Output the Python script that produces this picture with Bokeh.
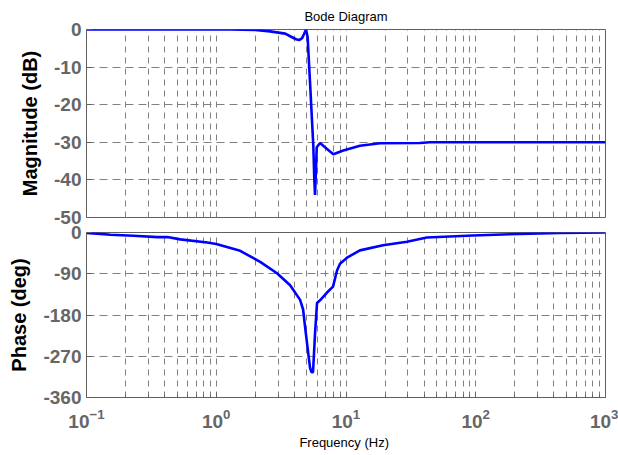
from bokeh.plotting import figure
from bokeh.layouts import column
from bokeh.models import Range1d, FixedTicker, CustomJSTickFormatter, LogTickFormatter
from bokeh.embed import file_html
from bokeh.resources import INLINE

# ---------------- data ----------------
mag_freq_hz = [0.1, 1.28, 2.0, 2.6, 3.40, 3.71, 4.12, 4.35, 4.59, 4.75, 4.92, 5.06,
               5.28, 5.60, 5.70, 5.77, 5.86, 5.95, 6.31, 7.10, 7.99, 9.53, 12.8,
               18.3, 37.1, 44.3, 1000]
mag_db = [0, 0, -0.1, -0.5, -1.1, -1.8, -2.6, -2.8, -2.3, -1.2, 0, -2,
          -14, -31, -40, -44, -38, -31.3, -30.2, -31.7, -33.2, -32.2, -30.9,
          -30.25, -30.2, -30.0, -30.0]

phase_freq_hz = [0.1, 0.128, 0.153, 0.230, 0.352, 0.420, 0.528, 0.853, 1.0, 1.53,
                 2.18, 2.94, 3.71, 4.43, 4.67, 4.88, 5.11, 5.28, 5.43, 5.57, 5.77,
                 5.98, 6.31, 7.14, 7.94, 8.53, 8.99, 10.18, 12.8, 19.3, 29.5, 42.0,
                 94.8, 218, 443, 1000]
phase_deg = [-1, -3, -5, -7, -10, -10, -15, -22, -25, -40,
             -64, -89, -115, -147, -168, -215, -262, -295, -305, -305, -221,
             -154, -148, -131, -118, -83, -68, -55, -39, -28, -20, -11,
             -6.5, -3, -1, 0]

x_major = [0.1, 1, 10, 100, 1000]
mag_ticks = [0, -10, -20, -30, -40, -50]
phase_ticks = [0, -90, -180, -270, -360]

title_text = "Bode Diagram"
mag_label = "Magnitude (dB)"
phase_label = "Phase (deg)"
freq_label = "Frequency  (Hz)"

# ---------------- styling ----------------
FONT = "Liberation Sans"
GRID = "#808080"
FRAME = "#606060"
TICKC = "#666666"
BLUE = "#0000ff"
x_minor = [m * 10.0 ** k for k in range(-1, 3) for m in range(2, 10)]

W = 618
x_range = Range1d(0.1, 1000)
plain_fmt = "return tick.toString()"


def style(p, yticks):
    p.outline_line_color = FRAME
    p.outline_line_width = 1
    p.xgrid.ticker = FixedTicker(ticks=x_major, minor_ticks=x_minor)
    p.xgrid.grid_line_color = GRID
    p.xgrid.grid_line_dash = "6 5"
    p.xgrid.minor_grid_line_color = GRID
    p.xgrid.minor_grid_line_dash = "6 5"
    p.ygrid.ticker = FixedTicker(ticks=yticks)
    p.ygrid.grid_line_color = GRID
    p.ygrid.grid_line_dash = "8 5"
    ax = p.yaxis[0]
    ax.ticker = FixedTicker(ticks=yticks)
    ax.formatter = CustomJSTickFormatter(code=plain_fmt)
    ax.axis_line_color = FRAME
    ax.major_tick_in = 5
    ax.major_tick_out = 0
    ax.minor_tick_in = 0
    ax.minor_tick_out = 0
    ax.major_tick_line_color = FRAME
    ax.major_label_text_font = FONT
    ax.major_label_text_font_style = "bold"
    ax.major_label_text_font_size = "19px"
    ax.major_label_text_color = TICKC
    ax.major_label_standoff = 5
    ax.axis_label_text_font = FONT
    ax.axis_label_text_font_style = "bold"
    ax.axis_label_text_font_size = "20px"
    ax.axis_label_text_color = "#000000"
    ax.axis_label_standoff = 10
    p.background_fill_color = "#ffffff"


# ---------------- magnitude ----------------
p1 = figure(width=W, height=237, x_axis_type="log", x_range=x_range,
            y_range=Range1d(-50, 0), output_backend="svg", toolbar_location=None,
            min_border_left=86, min_border_right=13, min_border_top=29,
            min_border_bottom=20, title=title_text)
p1.xaxis.visible = False
style(p1, mag_ticks)
p1.border_fill_color = "#ffffff"
p1.yaxis.axis_label = mag_label
p1.title.align = "center"
p1.title.text_font = FONT
p1.title.text_font_style = "normal"
p1.title.text_font_size = "13px"
p1.title.text_color = "#000000"
p1.title.standoff = 12
p1.line(mag_freq_hz, mag_db, line_color=BLUE, line_width=2.6)

# ---------------- phase ----------------
p2 = figure(width=W, height=236, x_axis_type="log", x_range=x_range,
            y_range=Range1d(-360, 0), output_backend="svg", toolbar_location=None,
            min_border_left=86, min_border_right=13, min_border_top=15,
            min_border_bottom=56)
style(p2, phase_ticks)
p2.border_fill_color = None
p2.margin = (-20, 0, 0, 0)
p2.yaxis.axis_label = phase_label
xa = p2.xaxis[0]
xa.ticker = FixedTicker(ticks=x_major, minor_ticks=x_minor)
xa.formatter = LogTickFormatter()
xa.axis_line_color = FRAME
xa.major_tick_in = 5
xa.major_tick_out = 0
xa.minor_tick_in = 3
xa.minor_tick_out = 0
xa.major_tick_line_color = FRAME
xa.minor_tick_line_color = FRAME
xa.major_label_text_font = FONT
xa.major_label_text_font_style = "bold"
xa.major_label_text_font_size = "19px"
xa.major_label_text_color = TICKC
xa.major_label_standoff = 11
xa.axis_label = freq_label
xa.axis_label_text_font = FONT
xa.axis_label_text_font_style = "normal"
xa.axis_label_text_font_size = "13px"
xa.axis_label_text_color = "#000000"
xa.axis_label_standoff = 4
p2.line(phase_freq_hz, phase_deg, line_color=BLUE, line_width=2.6)

layout = column(p1, p2, spacing=0)
open("out.html", "w").write(file_html(layout, INLINE))
